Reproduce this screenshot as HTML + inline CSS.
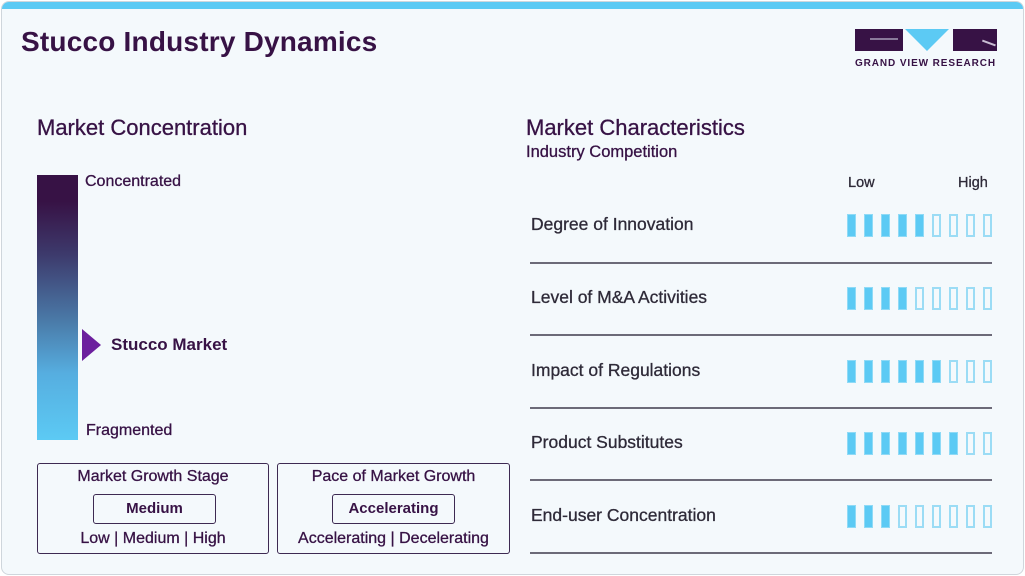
<!DOCTYPE html>
<html><head><meta charset="utf-8"><style>
*{margin:0;padding:0;box-sizing:border-box}
body{width:1025px;height:576px;background:#fff;font-family:"Liberation Sans",sans-serif;position:relative;overflow:hidden}
.card{position:absolute;left:1px;top:1px;width:1023px;height:574px;background:#f4f9fc;border:1px solid #cfd6dc;border-radius:8px;overflow:hidden}
.stripe{position:absolute;left:0;top:0;width:100%;height:7px;background:#5ccaf4}
.a{position:absolute;white-space:nowrap}
.m{-webkit-text-stroke:0.3px currentColor}
.dk{color:#371245}
.gr{color:#2e2a38}
.div{position:absolute;left:530px;width:462px;height:2px;background:#6c6a78}
.bar{position:absolute;width:9px;height:23px}
.f{background:#5ccaf4;border:1px solid #8fdaf6}
.e{border:2px solid #9bdcf5;background:transparent}
.box{position:absolute;border:1.5px solid #3d2a52;border-radius:3px}
</style></head><body>
<div class="card">
<div class="stripe"></div>
</div>
<div class="a dk" style="left:21px;top:26px;font-size:28px;font-weight:900;letter-spacing:0.2px">Stucco Industry Dynamics</div>

<!-- logo -->
<div class="a" style="left:855px;top:29px;width:48px;height:22px;background:#371245"></div>
<div class="a" style="left:870px;top:38px;width:28px;height:2px;background:#8a7a9a"></div>
<div class="a" style="left:905px;top:29px;width:0;height:0;border-left:22px solid transparent;border-right:22px solid transparent;border-top:22px solid #5ccaf4"></div>
<div class="a" style="left:953px;top:29px;width:44px;height:22px;background:#371245"></div>
<div class="a" style="left:982px;top:42px;width:14px;height:1.5px;background:#c8bcd2;transform:rotate(20deg)"></div>
<div class="a dk" style="left:855px;top:58px;font-size:10px;font-weight:bold;letter-spacing:0.9px">GRAND VIEW RESEARCH</div>

<!-- left -->
<div class="a dk m" style="left:37px;top:115px;font-size:22px">Market Concentration</div>
<div class="a" style="left:37px;top:175px;width:41px;height:265px;background:linear-gradient(#371245 0%,#371245 10%,#3d3a6c 30%,#4a7aa8 55%,#56aee0 75%,#5ccaf4 100%)"></div>
<div class="a dk m" style="left:85px;top:173px;font-size:16px">Concentrated</div>
<div class="a dk m" style="left:86px;top:422px;font-size:16px">Fragmented</div>
<div class="a" style="left:82px;top:329px;width:0;height:0;border-top:16px solid transparent;border-bottom:16px solid transparent;border-left:19px solid #6c1f9e"></div>
<div class="a dk" style="left:111px;top:335px;font-size:17px;font-weight:bold">Stucco Market</div>

<div class="box" style="left:37px;top:463px;width:232px;height:91px"></div>
<div class="a dk m" style="left:37px;top:468px;width:232px;text-align:center;font-size:16px">Market Growth Stage</div>
<div class="box" style="left:93px;top:494px;width:123px;height:30px"></div>
<div class="a dk" style="left:93px;top:500px;width:123px;text-align:center;font-size:15px;font-weight:bold">Medium</div>
<div class="a dk m" style="left:37px;top:530px;width:232px;text-align:center;font-size:16px">Low | Medium | High</div>

<div class="box" style="left:277px;top:463px;width:233px;height:91px"></div>
<div class="a dk m" style="left:277px;top:468px;width:233px;text-align:center;font-size:16px">Pace of Market Growth</div>
<div class="box" style="left:332px;top:494px;width:123px;height:30px"></div>
<div class="a dk" style="left:332px;top:500px;width:123px;text-align:center;font-size:15px;font-weight:bold">Accelerating</div>
<div class="a dk m" style="left:277px;top:530px;width:233px;text-align:center;font-size:16px">Accelerating | Decelerating</div>

<!-- right -->
<div class="a dk m" style="left:526px;top:115px;font-size:22px">Market Characteristics</div>
<div class="a dk m" style="left:526px;top:143px;font-size:16.5px">Industry Competition</div>
<div class="a gr m" style="left:848px;top:175px;font-size:14.5px">Low</div>
<div class="a gr m" style="left:958px;top:175px;font-size:14.5px">High</div>

<div class="a gr m" style="left:531px;top:214px;font-size:17.5px">Degree of Innovation</div>
<div class="a gr m" style="left:531px;top:287px;font-size:17.5px">Level of M&amp;A Activities</div>
<div class="a gr m" style="left:531px;top:360px;font-size:17.5px">Impact of Regulations</div>
<div class="a gr m" style="left:531px;top:432px;font-size:17.5px">Product Substitutes</div>
<div class="a gr m" style="left:531px;top:505px;font-size:17.5px">End-user Concentration</div>

<div class="div" style="top:262px"></div>
<div class="div" style="top:334px"></div>
<div class="div" style="top:407px"></div>
<div class="div" style="top:479px"></div>
<div class="div" style="top:552px"></div>

<div id="bars"></div>
<script>
var rows=[[214,5],[287,4],[360,6],[432,7],[505,3]],h='';
rows.forEach(function(r){for(var i=0;i<9;i++){h+='<div class="bar '+(i<r[1]?'f':'e')+'" style="left:'+(847+i*17)+'px;top:'+r[0]+'px"></div>';}});
document.getElementById('bars').innerHTML=h;
</script>
</body></html>
